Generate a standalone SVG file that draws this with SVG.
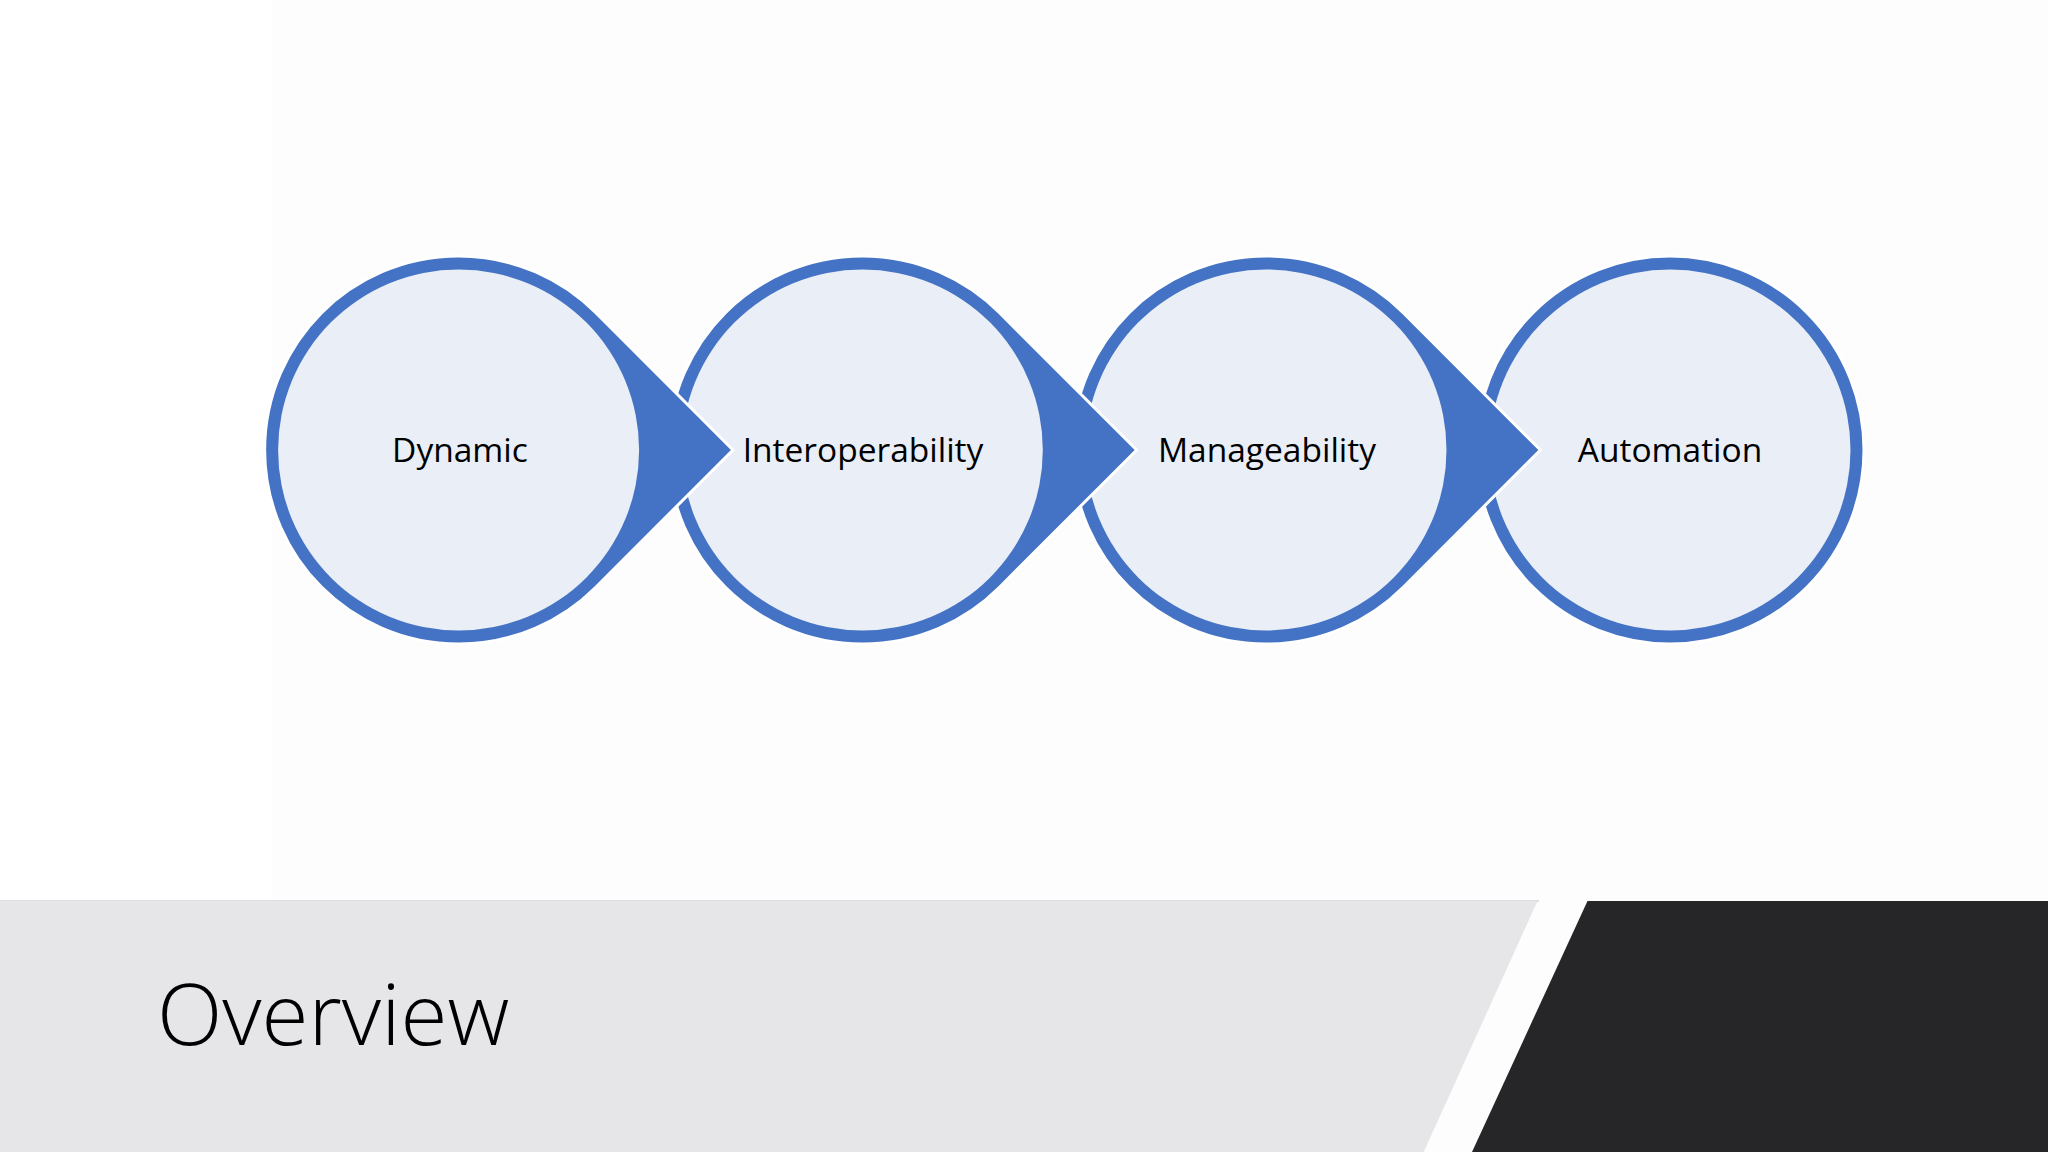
<svg xmlns="http://www.w3.org/2000/svg" width="2048" height="1152" viewBox="0 0 2048 1152">
  <style>
    .ring { fill: #4472C4; stroke: #FFFFFF; stroke-width: 3; }
    .inner { fill: #E9EEF7; }
    .label { font-family: "Open Sans", "Liberation Sans", sans-serif; font-size: 33.5px; fill: #000000; text-anchor: middle; }
    .title { font-family: "Open Sans", "Liberation Sans", sans-serif; font-weight: 300; font-size: 85.5px; fill: #000000; }
  </style>
  <rect x="0" y="0" width="2048" height="1152" fill="#FDFDFD"/>
  <rect x="0" y="0" width="272" height="901" fill="#FFFFFF"/>

  <g id="node-automation">
    <circle class="ring" cx="1670" cy="450" r="194"/>
    <circle class="inner" cx="1670" cy="450" r="180.5"/>
    <text class="label" x="1670" y="461.5">Automation</text>
  </g>
  <g id="node-manageability">
    <path class="ring" d="M1540.4 450 L1403.2 312.8 A194 194 0 1 0 1403.2 587.2 Z"/>
    <circle class="inner" cx="1266" cy="450" r="180.5"/>
    <text class="label" x="1267" y="461.5">Manageability</text>
  </g>
  <g id="node-interoperability">
    <path class="ring" d="M1136.7 450 L999.5 312.8 A194 194 0 1 0 999.5 587.2 Z"/>
    <circle class="inner" cx="862.3" cy="450" r="180.5"/>
    <text class="label" x="863" y="461.5">Interoperability</text>
  </g>
  <g id="node-dynamic">
    <path class="ring" d="M733 450 L595.8 312.8 A194 194 0 1 0 595.8 587.2 Z"/>
    <circle class="inner" cx="458.6" cy="450" r="180.5"/>
    <text class="label" x="460" y="461.5">Dynamic</text>
  </g>
  <g id="connectors"></g>

  <g id="footer">
    <rect x="0" y="900" width="1539" height="2" fill="#DEDEE0"/>
    <polygon points="0,901 1537.5,901 1423.7,1152 0,1152" fill="#E6E5E8"/>
    <polygon points="1587.5,901 2048,901 2048,1152 1472,1152" fill="#262528"/>
    <text class="title" x="157" y="1045">Overview</text>
  </g>
</svg>
